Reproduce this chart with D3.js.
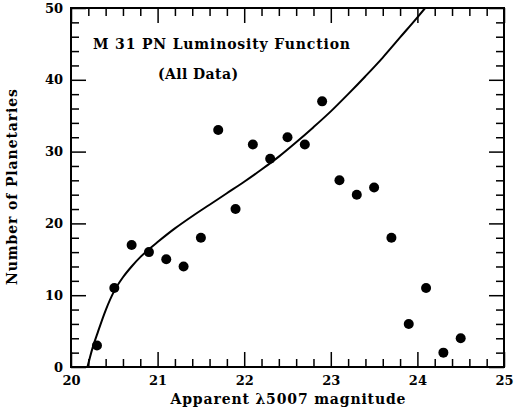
<!DOCTYPE html>
<html>
<head>
<meta charset="utf-8">
<script src="https://cdn.jsdelivr.net/npm/d3@7"></script>
<style>
  body { margin: 0; background: #fff; }
  svg text { fill: #000; }
</style>
</head>
<body>
<div id="chart"></div>
<script>
  // observed counts per 0.2 mag bin
  var mags   = [20.3, 20.5, 20.7, 20.9, 21.1, 21.3, 21.5, 21.7, 21.9, 22.1, 22.3,
                22.5, 22.7, 22.9, 23.1, 23.3, 23.5, 23.7, 23.9, 24.1, 24.3, 24.5];
  var counts = [3, 11, 17, 16, 15, 14, 18, 33, 22, 31, 29,
                32, 31, 37, 26, 24, 25, 18, 6, 11, 2, 4];

  // fitted luminosity function
  var fitMag = [20.19, 20.22, 20.25, 20.3, 20.4, 20.5, 20.6, 20.7, 20.8, 20.9, 21.0, 21.2, 21.4, 21.6,
                21.8, 22.0, 22.2, 22.4, 22.6, 22.8, 23.0, 23.2, 23.4, 23.6, 23.8, 24.0, 24.09];
  var fitN   = [0, 1.4, 2.7, 4.5, 7.9, 10.6, 12.5, 14.0, 15.3, 16.4, 17.4, 19.3, 21.0, 22.6,
                24.2, 25.8, 27.5, 29.3, 31.3, 33.4, 35.6, 38.0, 40.5, 43.1, 45.9, 48.7, 50];

  var xTicks = [20, 21, 22, 23, 24, 25];
  var yTicks = [0, 10, 20, 30, 40, 50];
  var xMinor = d3.range(0, 26).filter(function(i){ return i % 5 != 0; }).map(function(i){ return 20 + i * 0.2; });
  var yMinor = d3.range(0, 51, 2).filter(function(v){ return v % 10 != 0; });

  var width = 515, height = 412;
  var pLeft = 71, pRight = 504, pTop = 8, pBottom = 367;

  var x = d3.scaleLinear().domain([20, 25]).range([pLeft, pRight]);
  var y = d3.scaleLinear().domain([0, 50]).range([pBottom, pTop]);

  var svg = d3.select("#chart")
              .append("svg")
              .attr("width", width)
              .attr("height", height);

  var serif = "'DejaVu Serif', serif";

  var tickStyle = function(g){
    g.selectAll("text")
     .style("font-family", serif)
     .style("font-weight", "bold")
     .style("font-size", "13px");
    g.selectAll("line").attr("stroke", "#000").attr("stroke-width", 1.5);
    g.select(".domain").remove();
  };

  // major ticks with labels (left, bottom)
  svg.append("g")
     .attr("transform", "translate(0," + pBottom + ")")
     .call(d3.axisBottom(x).tickValues(xTicks).tickSize(-15).tickPadding(9).tickFormat(d3.format("d")))
     .call(tickStyle);
  svg.append("g")
     .attr("transform", "translate(" + pLeft + ",0)")
     .call(d3.axisLeft(y).tickValues(yTicks).tickSize(-15).tickPadding(8).tickFormat(d3.format("d")))
     .call(tickStyle);

  // mirrored major ticks (top, right)
  svg.append("g")
     .attr("transform", "translate(0," + pTop + ")")
     .call(d3.axisTop(x).tickValues(xTicks).tickSize(-15).tickFormat(""))
     .call(tickStyle);
  svg.append("g")
     .attr("transform", "translate(" + pRight + ",0)")
     .call(d3.axisRight(y).tickValues(yTicks).tickSize(-15).tickFormat(""))
     .call(tickStyle);

  // minor ticks on all four sides
  svg.append("g").attr("transform", "translate(0," + pBottom + ")")
     .call(d3.axisBottom(x).tickValues(xMinor).tickSize(-8).tickFormat("")).call(tickStyle);
  svg.append("g").attr("transform", "translate(0," + pTop + ")")
     .call(d3.axisTop(x).tickValues(xMinor).tickSize(-8).tickFormat("")).call(tickStyle);
  svg.append("g").attr("transform", "translate(" + pLeft + ",0)")
     .call(d3.axisLeft(y).tickValues(yMinor).tickSize(-8).tickFormat("")).call(tickStyle);
  svg.append("g").attr("transform", "translate(" + pRight + ",0)")
     .call(d3.axisRight(y).tickValues(yMinor).tickSize(-8).tickFormat("")).call(tickStyle);

  // frame
  svg.append("rect")
     .attr("x", pLeft).attr("y", pTop)
     .attr("width", pRight - pLeft).attr("height", pBottom - pTop)
     .attr("fill", "none")
     .attr("stroke", "#000")
     .attr("stroke-width", 2);

  // fitted curve
  var line = d3.line()
               .x(function(d, i){ return x(fitMag[i]); })
               .y(function(d, i){ return y(fitN[i]); })
               .curve(d3.curveMonotoneX);
  svg.append("path")
     .datum(fitN)
     .attr("d", line)
     .attr("fill", "none")
     .attr("stroke", "#000")
     .attr("stroke-width", 2);

  // data points
  svg.selectAll(".pt")
     .data(counts)
     .enter()
     .append("circle")
     .attr("class", "pt")
     .attr("cx", function(d, i){ return x(mags[i]); })
     .attr("cy", function(d){ return y(d); })
     .attr("r", 5)
     .attr("fill", "#000");

  // labels
  svg.append("text")
     .attr("x", 93).attr("y", 49)
     .attr("textLength", 257)
     .style("font-family", serif).style("font-size", "14px").style("font-weight", "bold")
     .text("M 31 PN Luminosity Function");
  svg.append("text")
     .attr("x", 198).attr("y", 79)
     .attr("text-anchor", "middle")
     .attr("textLength", 80)
     .style("font-family", serif).style("font-size", "14px").style("font-weight", "bold")
     .text("(All Data)");
  svg.append("text")
     .attr("x", 288).attr("y", 404)
     .attr("text-anchor", "middle")
     .attr("textLength", 235)
     .style("font-family", serif).style("font-size", "14px").style("font-weight", "bold")
     .text("Apparent \u03bb5007 magnitude");
  svg.append("text")
     .attr("transform", "translate(17,187) rotate(-90)")
     .attr("text-anchor", "middle")
     .attr("textLength", 196)
     .style("font-family", serif).style("font-size", "14px").style("font-weight", "bold")
     .text("Number of Planetaries");
</script>
</body>
</html>
